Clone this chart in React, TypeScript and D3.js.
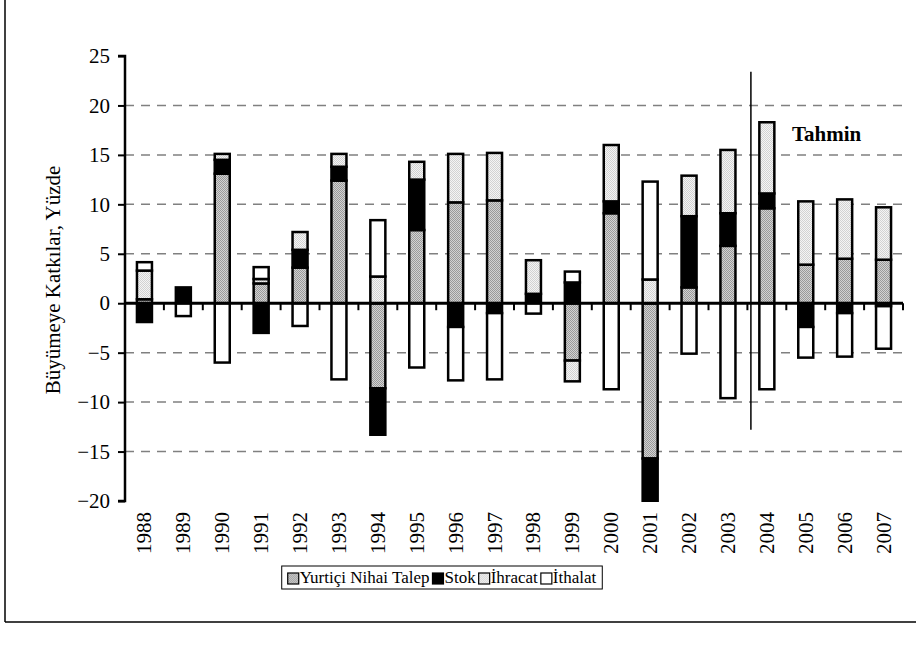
import React, { useEffect, useRef } from "react";
import * as d3 from "d3";

const years = ["1988","1989","1990","1991","1992","1993","1994","1995","1996","1997","1998","1999","2000","2001","2002","2003","2004","2005","2006","2007"];
const seriesNames = ["Yurtiçi Nihai Talep", "Stok", "İhracat", "İthalat"];
const yurtici = [0.4, 0, 13.1, 2.0, 3.6, 12.4, -8.6, 7.4, 10.2, 10.4, 0, -5.8, 9.1, -15.7, 1.6, 5.8, 9.6, 3.9, 4.5, 4.4];
const stok = [-1.9, 1.6, 1.4, -3.0, 1.8, 1.4, -4.7, 5.1, -2.4, -1.0, 0.95, 2.1, 1.2, -4.3, 7.2, 3.3, 1.5, -2.4, -1.0, -0.3];
const ihracat = [2.9, 0, 0.6, 0.45, 1.8, 1.3, 2.7, 1.8, 4.9, 4.8, 3.4, -2.1, 5.7, 2.4, 4.1, 6.4, 7.2, 6.4, 6.0, 5.3];
const ithalat = [0.85, -1.3, -6.0, 1.2, -2.3, -7.7, 5.7, -6.5, -5.4, -6.7, -1.05, 1.1, -8.7, 9.9, -5.1, -9.6, -8.7, -3.1, -4.4, -4.3];
const yTicks = [-20, -15, -10, -5, 0, 5, 10, 15, 20, 25];
const gridTicks = [-15, -10, -5, 5, 10, 15, 20];
const forecastStartIndex = 16; // 2004
const yTitle = "Büyümeye Katkılar, Yüzde";
const forecastLabel = "Tahmin";

const FONT = '"Liberation Serif", "DejaVu Serif", "Times New Roman", serif';

export default function App() {
  const ref = useRef<SVGSVGElement>(null);

  useEffect(() => {
    const svg = d3.select(ref.current);
    svg.selectAll("*").remove();

    const defs = svg.append("defs");
    const mkPattern = (id: string, c1: string, c2: string) => {
      const p = defs.append("pattern").attr("id", id).attr("width", 2).attr("height", 2).attr("patternUnits", "userSpaceOnUse");
      p.append("rect").attr("width", 2).attr("height", 2).attr("fill", c2);
      p.append("rect").attr("width", 1).attr("height", 1).attr("fill", c1);
      p.append("rect").attr("x", 1).attr("y", 1).attr("width", 1).attr("height", 1).attr("fill", c1);
    };
    mkPattern("pYurtici", "#9a9a9a", "#d2d2d2");
    mkPattern("pIhracat", "#d2d2d2", "#f4f4f4");
    const fills = ["url(#pYurtici)", "#000000", "url(#pIhracat)", "#ffffff"];

    const x0 = 125, x1 = 903;
    const x = d3.scaleBand<string>().domain(years).range([x0, x1]).padding(0);
    const y = d3.scaleLinear().domain([-20, 25]).range([501, 56]);

    // frame
    svg.append("line").attr("x1", 5).attr("x2", 5).attr("y1", 0).attr("y2", 622).attr("stroke", "#000").attr("stroke-width", 1.5);
    svg.append("line").attr("x1", 5).attr("x2", 916).attr("y1", 622).attr("y2", 622).attr("stroke", "#000").attr("stroke-width", 1.5);

    // gridlines
    svg.append("g").selectAll("line").data(gridTicks).join("line")
      .attr("x1", x0).attr("x2", x1)
      .attr("y1", d => y(d)).attr("y2", d => y(d))
      .attr("stroke", "#808080").attr("stroke-width", 1.5).attr("stroke-dasharray", "9,7");

    // stacked data
    const table = years.map((yr, i) => ({ year: yr, s0: yurtici[i], s1: stok[i], s2: ihracat[i], s3: ithalat[i] }));
    const stack = d3.stack<any>().keys(["s0", "s1", "s2", "s3"]).offset(d3.stackOffsetDiverging);
    const layers = stack(table);
    const bw = 15;

    const clipId = "plotClip";
    defs.append("clipPath").attr("id", clipId).append("rect").attr("x", x0).attr("y", y(25) - 2).attr("width", x1 - x0).attr("height", y(-20) - y(25) + 3);

    const gBars = svg.append("g").attr("clip-path", `url(#${clipId})`);
    layers.forEach((layer, li) => {
      gBars.append("g").selectAll("rect").data(layer.filter(d => Math.abs(d[1] - d[0]) > 1e-6)).join("rect")
        .attr("x", d => (x(d.data.year) as number) + x.bandwidth() / 2 - bw / 2)
        .attr("width", bw)
        .attr("y", d => y(Math.max(d[0], d[1])))
        .attr("height", d => Math.abs(y(d[0]) - y(d[1])))
        .attr("fill", fills[li])
        .attr("stroke", "#000").attr("stroke-width", 2.5);
    });

    // y axis
    const yAxis = d3.axisLeft(y).tickValues(yTicks).tickSize(7).tickPadding(8).tickFormat(d3.format("d"));
    const gy = svg.append("g").attr("transform", `translate(${x0},0)`).call(yAxis);
    gy.attr("font-family", null).attr("font-size", null);
    gy.select(".domain").attr("stroke", "#000").attr("stroke-width", 2.5).attr("d", `M-7,${y(25)}H0V${y(-20)}H-7`);
    gy.selectAll(".tick line").attr("stroke", "#000").attr("stroke-width", 2);
    gy.selectAll(".tick text").style("font-family", FONT).style("font-size", "21px").attr("fill", "#000");

    // x axis at zero
    const boundaries = d3.range(years.length + 1).map(i => x0 + i * x.step());
    svg.append("line").attr("x1", x0).attr("x2", x1).attr("y1", y(0)).attr("y2", y(0)).attr("stroke", "#000").attr("stroke-width", 3);
    svg.append("g").selectAll("line").data(boundaries.slice(1)).join("line")
      .attr("x1", d => d).attr("x2", d => d).attr("y1", y(0)).attr("y2", y(0) + 7)
      .attr("stroke", "#000").attr("stroke-width", 2);

    // year labels
    svg.append("g").selectAll("text").data(years).join("text")
      .attr("transform", d => `translate(${(x(d) as number) + x.bandwidth() / 2 + 7},512) rotate(-90)`)
      .attr("text-anchor", "end")
      .style("font-family", FONT).style("font-size", "21px").attr("fill", "#000")
      .text(d => d);

    // y title
    svg.append("text").attr("transform", "translate(60,280) rotate(-90)").attr("text-anchor", "middle")
      .style("font-family", FONT).style("font-size", "21px").attr("fill", "#000").text(yTitle);

    // forecast separator
    const sepX = x0 + forecastStartIndex * x.step() + 3.5;
    svg.append("line").attr("x1", sepX).attr("x2", sepX).attr("y1", y(23.4)).attr("y2", y(-12.8)).attr("stroke", "#000").attr("stroke-width", 1.5);
    svg.append("text").attr("x", 792).attr("y", 141).style("font-family", FONT).style("font-weight", "bold").style("font-size", "21px").attr("fill", "#000").text(forecastLabel);

    // legend
    const lg = svg.append("g");
    const sw = 11;
    let cx = 0;
    seriesNames.forEach((n, i) => {
      const t = lg.append("text").style("font-family", FONT).style("font-size", "17px").attr("fill", "#000").text(n);
      const w = (t.node() as SVGTextElement).getComputedTextLength();
      t.attr("x", cx + sw + 1).attr("y", 0);
      lg.append("rect").attr("x", cx).attr("y", -sw + 1).attr("width", sw).attr("height", sw)
        .attr("fill", fills[i]).attr("stroke", "#000").attr("stroke-width", 1.2);
      cx += sw + 1 + w + 3;
    });
    const totalW = cx - 3;
    const lx = 442 - totalW / 2;
    lg.attr("transform", `translate(${lx},583)`);
    svg.insert("rect", () => lg.node() as any).attr("x", lx - 6).attr("y", 566).attr("width", totalW + 12).attr("height", 23)
      .attr("fill", "#fff").attr("stroke", "#000").attr("stroke-width", 1);
  }, []);

  return (
    <svg ref={ref} width={921} height={650} style={{ position: "absolute", left: 0, top: 0, background: "#fff" }} />
  );
}
